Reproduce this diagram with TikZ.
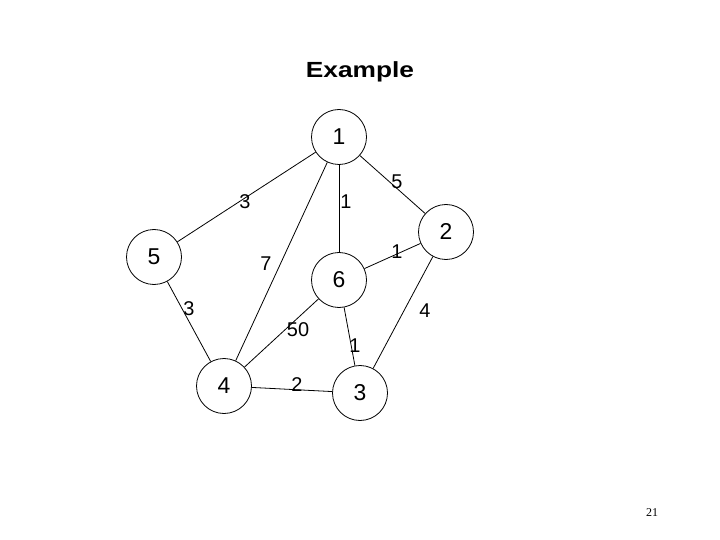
\documentclass[tikz,border=0pt]{standalone}
\usepackage{fontspec}
\setmainfont{Liberation Serif}
\newfontfamily\lsans{Liberation Sans}
\begin{document}
\begin{tikzpicture}[x=1bp,y=-1bp,
  vert/.style={circle,draw,line width=0.8bp,minimum size=55bp,inner sep=0pt,font=\lsans\fontsize{23}{26}\selectfont},
  wt/.style={inner sep=0pt,font=\lsans\fontsize{20}{22}\selectfont},
  edge/.style={line width=0.8bp}]
\useasboundingbox (0,0) rectangle (720,540);
\node[font=\lsans\bfseries\fontsize{22}{24}\selectfont,xscale=1.2] (title) at (360,72) {Example};
\node[vert] (n1) at (339,137) {1};
\node[vert] (n2) at (446,232) {2};
\node[vert] (n5) at (154,257) {5};
\node[vert] (n6) at (339,280) {6};
\node[vert] (n4) at (224,386) {4};
\node[vert] (n3) at (360,393) {3};
\draw[edge] (n1) -- (n5);
\draw[edge] (n1) -- (n4);
\draw[edge] (n1) -- (n6);
\draw[edge] (n1) -- (n2);
\draw[edge] (n2) -- (n6);
\draw[edge] (n2) -- (n3);
\draw[edge] (n5) -- (n4);
\draw[edge] (n6) -- (n4);
\draw[edge] (n6) -- (n3);
\draw[edge] (n4) -- (n3);
\node[wt] (w15) at (245,202) {3};
\node[wt] (w14) at (266,264) {7};
\node[wt] (w16) at (346,202) {1};
\node[wt] (w12) at (397,182) {5};
\node[wt] (w26) at (397,252) {1};
\node[wt] (w23) at (425,311) {4};
\node[wt] (w54) at (189,309) {3};
\node[wt] (w64) at (298,330) {50};
\node[wt] (w63) at (355,346) {1};
\node[wt] (w43) at (297,385) {2};
\node[font=\fontsize{12}{14}\selectfont] (pg) at (652,513) {21};
\end{tikzpicture}
\end{document}
